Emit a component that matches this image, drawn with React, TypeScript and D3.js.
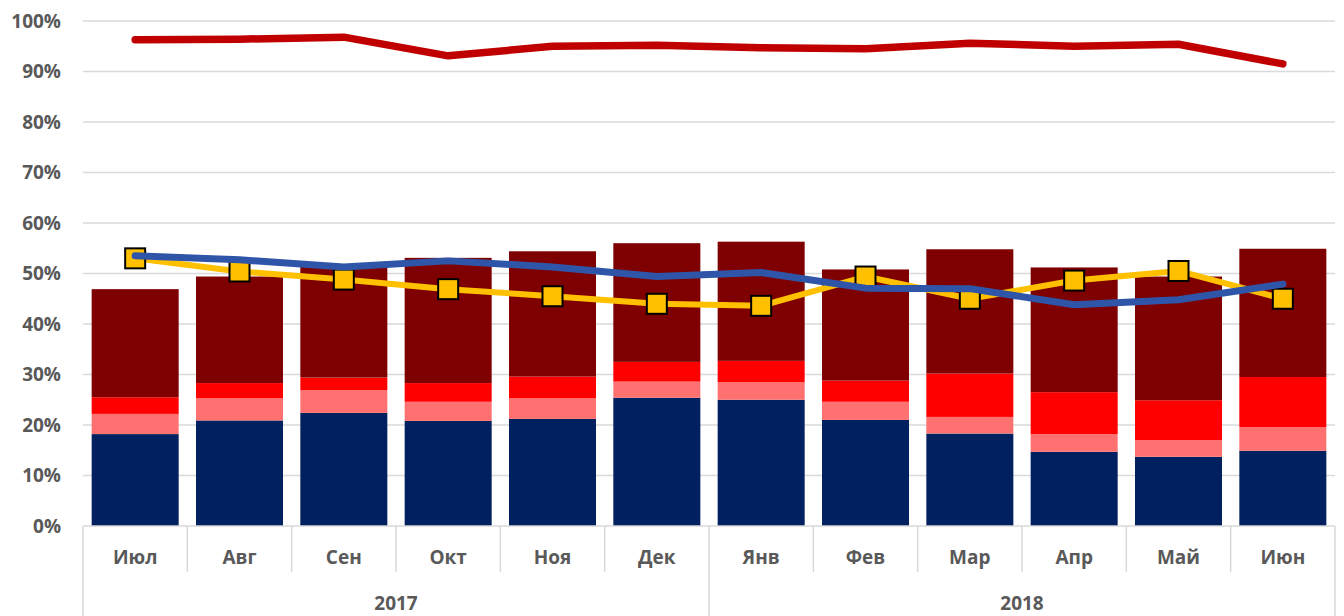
import React, { useEffect, useRef } from 'react';
import * as d3 from 'd3';

const months = ['Июл', 'Авг', 'Сен', 'Окт', 'Ноя', 'Дек', 'Янв', 'Фев', 'Мар', 'Апр', 'Май', 'Июн'];
const years = [
  { label: '2017', from: 0, to: 6 },
  { label: '2018', from: 6, to: 12 },
];

// stacked bar parts, bottom to top (%)
const navy = [18.2, 20.9, 22.4, 20.8, 21.2, 25.4, 25.0, 21.0, 18.3, 14.7, 13.7, 14.9];
const salmon = [4.0, 4.4, 4.5, 3.8, 4.1, 3.2, 3.5, 3.6, 3.3, 3.5, 3.3, 4.7];
const brightRed = [3.3, 3.0, 2.5, 3.7, 4.3, 3.9, 4.2, 4.2, 8.6, 8.3, 7.9, 9.9];
const darkRed = [21.4, 21.1, 21.9, 24.8, 24.8, 23.5, 23.6, 22.0, 24.6, 24.7, 24.5, 25.4];

// lines (%)
const topLine = [96.3, 96.4, 96.8, 93.1, 95.0, 95.2, 94.7, 94.5, 95.6, 95.0, 95.4, 91.5];
const blueLine = [53.5, 52.7, 51.3, 52.5, 51.3, 49.4, 50.2, 47.1, 47.0, 43.8, 44.8, 47.9];
const yellowLine = [53.0, 50.4, 48.8, 46.9, 45.5, 44.0, 43.6, 49.4, 45.0, 48.6, 50.5, 45.0];

const yTicks = [0, 10, 20, 30, 40, 50, 60, 70, 80, 90, 100];

const barKeys = ['navy', 'salmon', 'brightRed', 'darkRed'];
const barColors = { navy: '#002060', salmon: '#FF7171', brightRed: '#FF0000', darkRed: '#7F0000' };

const App = () => {
  const ref = useRef<SVGSVGElement>(null);

  useEffect(() => {
    const width = 1344;
    const height = 616;
    const left = 83, right = 1335, top = 21, bottom = 526;
    const font = "'Open Sans', sans-serif";
    const gray = '#595959';

    const svg = d3.select(ref.current);
    svg.selectAll('*').remove();
    svg.attr('width', width).attr('height', height);

    const x = d3.scaleBand().domain(months).range([left, right]).paddingInner(0.166).paddingOuter(0.083);
    const step = x.step();
    const y = d3.scaleLinear().domain([0, 100]).range([bottom, top]);
    const cx = (m) => x(m) + x.bandwidth() / 2;

    // gridlines
    svg.append('g')
      .selectAll('line')
      .data(yTicks.slice(1))
      .enter()
      .append('line')
      .attr('x1', left).attr('x2', right)
      .attr('y1', (d) => y(d)).attr('y2', (d) => y(d))
      .attr('stroke', '#D9D9D9').attr('stroke-width', 1.5);

    // y labels
    svg.append('g')
      .selectAll('text')
      .data(yTicks)
      .enter()
      .append('text')
      .attr('x', 61).attr('y', (d) => y(d))
      .attr('dy', '0.35em')
      .attr('text-anchor', 'end')
      .attr('font-family', font).attr('font-weight', 700).attr('font-size', 19)
      .attr('fill', gray)
      .text((d) => d + '%');

    // bars
    const table = months.map((m, i) => ({
      month: m, navy: navy[i], salmon: salmon[i], brightRed: brightRed[i], darkRed: darkRed[i],
    }));
    const series = d3.stack().keys(barKeys)(table);
    svg.append('g')
      .selectAll('g')
      .data(series)
      .enter()
      .append('g')
      .attr('fill', (s) => barColors[s.key])
      .selectAll('rect')
      .data((s) => s)
      .enter()
      .append('rect')
      .attr('x', (d) => x(d.data.month))
      .attr('width', x.bandwidth())
      .attr('y', (d) => y(d[1]))
      .attr('height', (d) => y(d[0]) - y(d[1]));

    // category axis
    const axis = svg.append('g').attr('stroke', '#D9D9D9').attr('stroke-width', 1.5);
    axis.append('line').attr('x1', left).attr('x2', right).attr('y1', bottom).attr('y2', bottom);
    d3.range(0, months.length + 1).forEach((i) => {
      const xx = left + i * step;
      const isYear = i === 0 || i === 6 || i === 12;
      axis.append('line').attr('x1', xx).attr('x2', xx).attr('y1', bottom).attr('y2', isYear ? height : 572);
    });

    svg.append('g')
      .selectAll('text')
      .data(months)
      .enter()
      .append('text')
      .attr('x', (m) => cx(m)).attr('y', 557)
      .attr('dy', '0.35em')
      .attr('text-anchor', 'middle')
      .attr('font-family', font).attr('font-weight', 700).attr('font-size', 19)
      .attr('fill', gray)
      .text((m) => m);

    svg.append('g')
      .selectAll('text')
      .data(years)
      .enter()
      .append('text')
      .attr('x', (d) => left + ((d.from + d.to) / 2) * step).attr('y', 603)
      .attr('dy', '0.35em')
      .attr('text-anchor', 'middle')
      .attr('font-family', font).attr('font-weight', 700).attr('font-size', 19)
      .attr('fill', gray)
      .text((d) => d.label);

    const line = d3.line().x((d, i) => cx(months[i])).y((d) => y(d));

    svg.append('path')
      .attr('d', line(topLine))
      .attr('fill', 'none').attr('stroke', '#C00000').attr('stroke-width', 7.5)
      .attr('stroke-linecap', 'round').attr('stroke-linejoin', 'round');

    svg.append('path')
      .attr('d', line(yellowLine))
      .attr('fill', 'none').attr('stroke', '#FFC000').attr('stroke-width', 6)
      .attr('stroke-linecap', 'round').attr('stroke-linejoin', 'round');

    svg.append('g')
      .selectAll('rect')
      .data(yellowLine)
      .enter()
      .append('rect')
      .attr('x', (d, i) => cx(months[i]) - 10)
      .attr('y', (d) => y(d) - 10)
      .attr('width', 20).attr('height', 20)
      .attr('fill', '#FFC000').attr('stroke', '#000').attr('stroke-width', 2);

    svg.append('path')
      .attr('d', line(blueLine))
      .attr('fill', 'none').attr('stroke', '#2F55A8').attr('stroke-width', 7)
      .attr('stroke-linecap', 'round').attr('stroke-linejoin', 'round');
  }, []);

  return (
    <div style={{ position: 'absolute', left: 0, top: 0 }}>
      <svg ref={ref} style={{ display: 'block' }}></svg>
    </div>
  );
};

export default App;
